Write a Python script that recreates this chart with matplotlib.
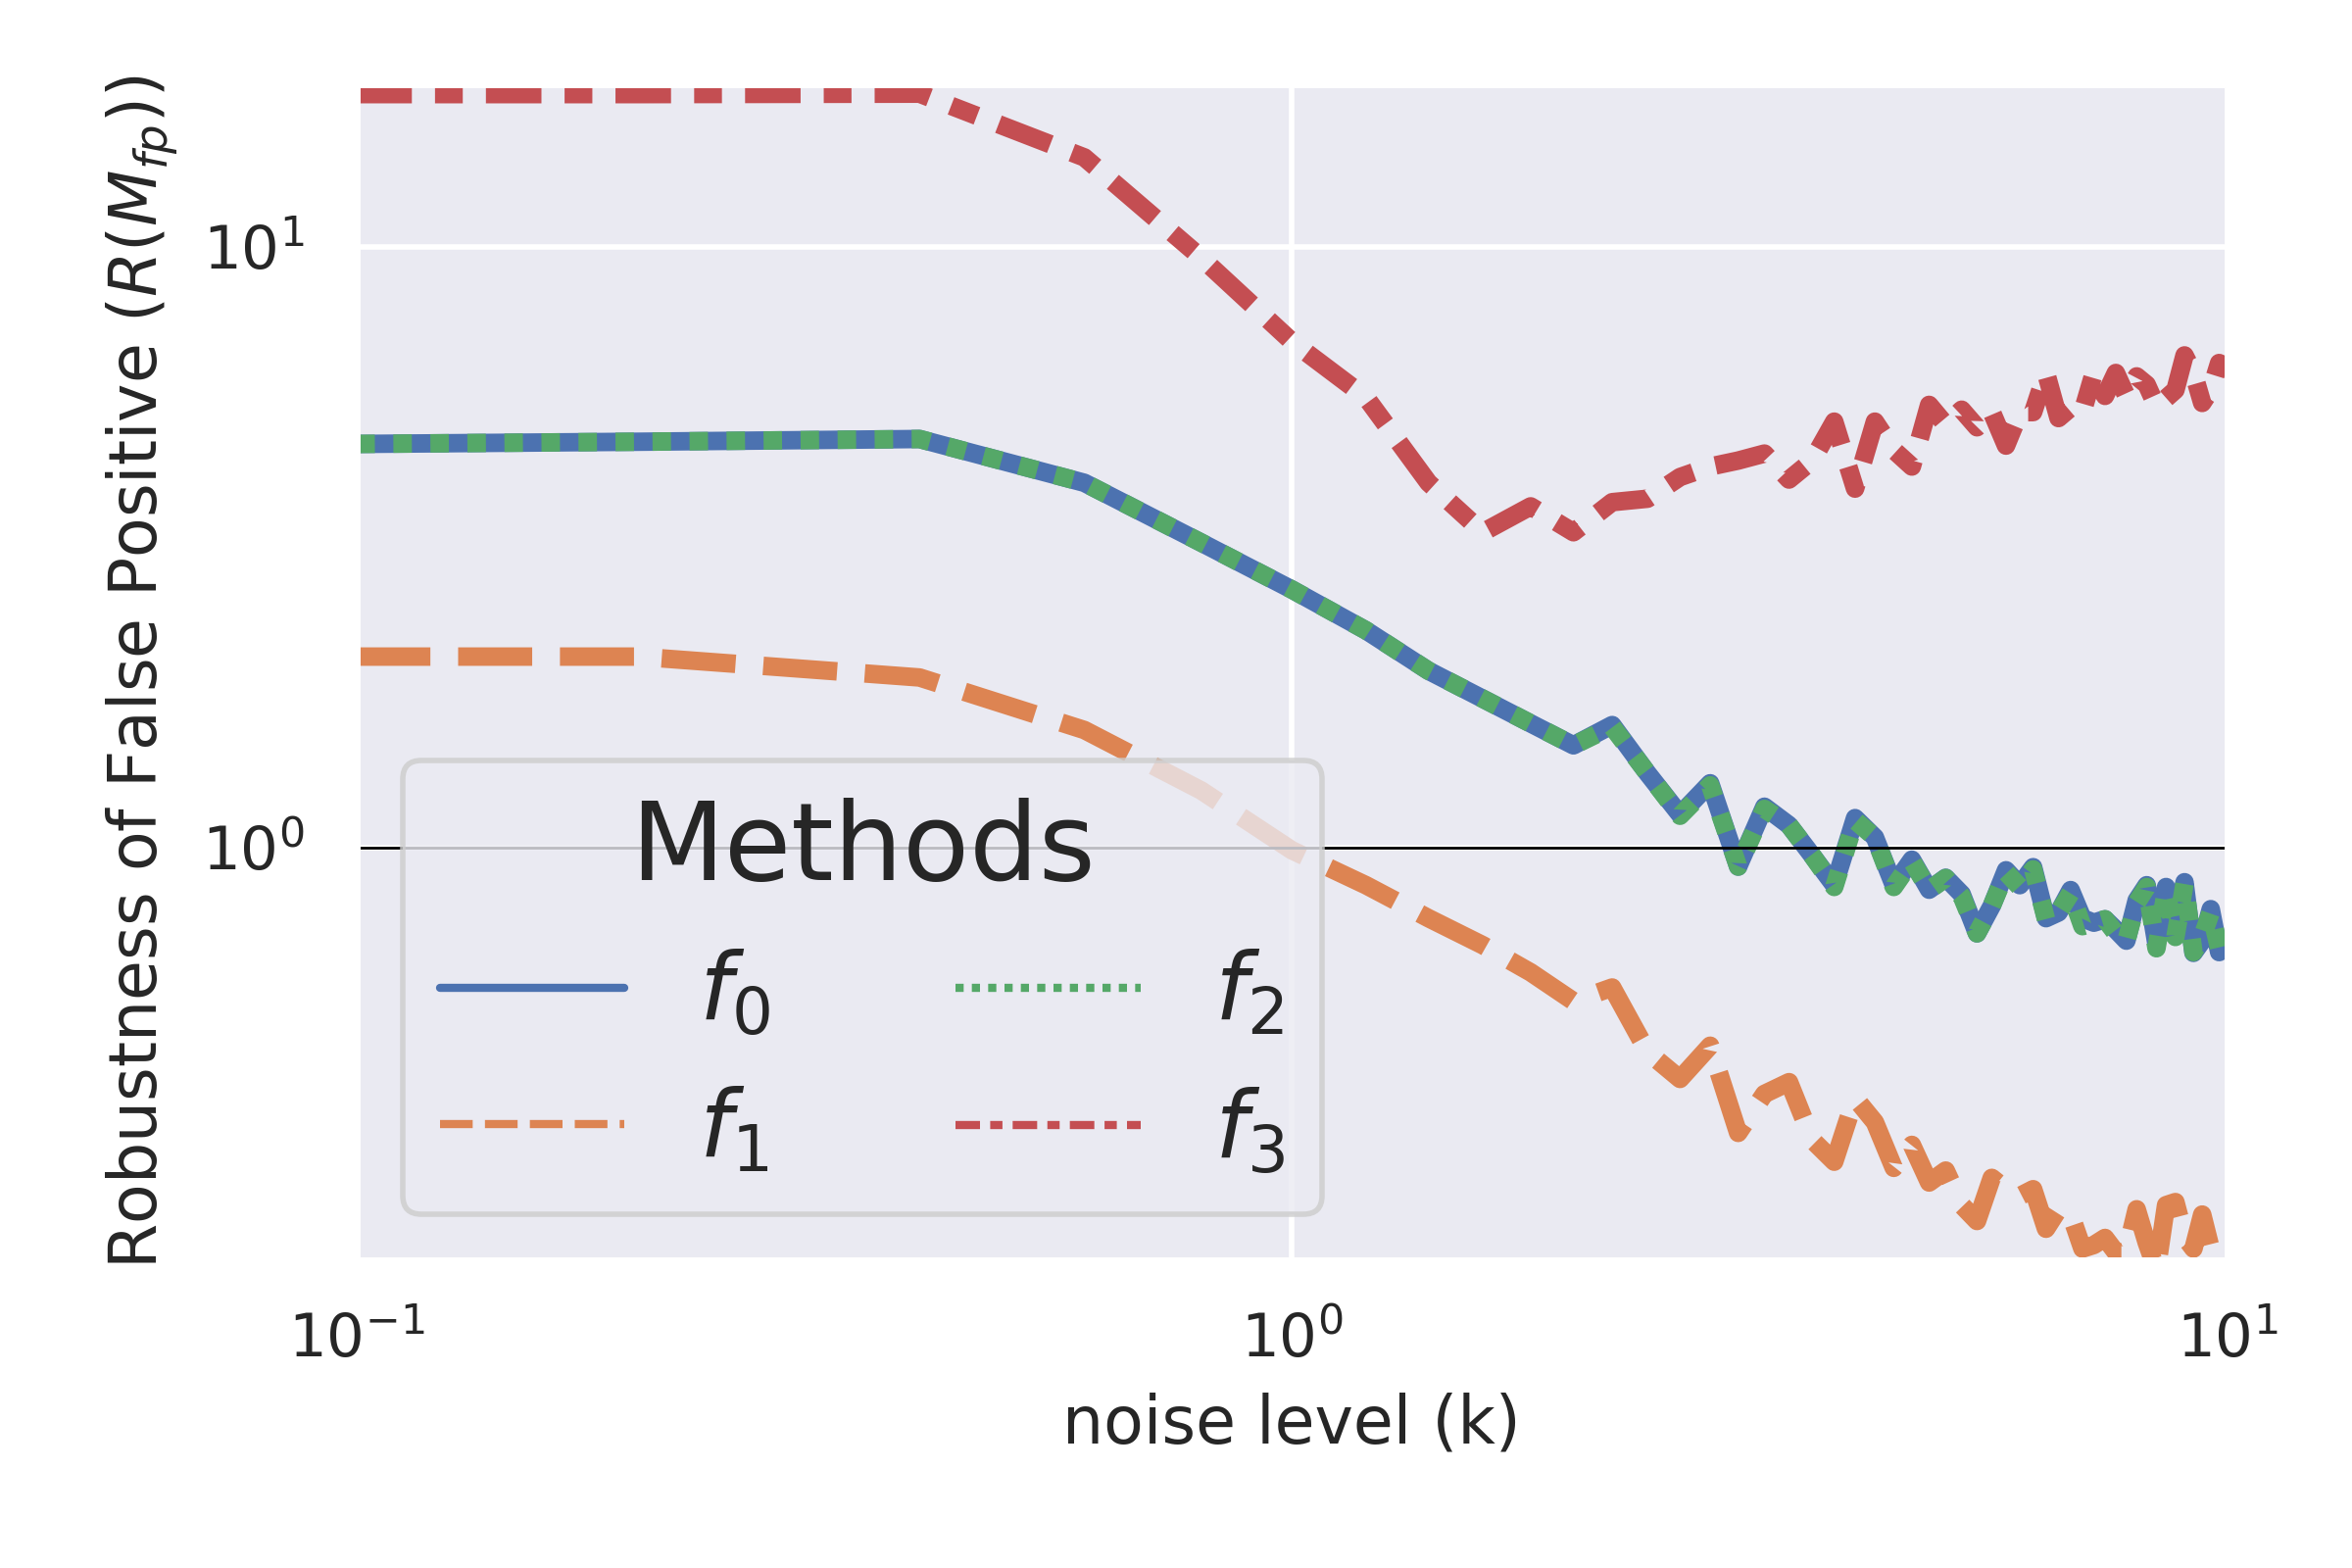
import matplotlib
matplotlib.use("Agg")
import matplotlib.pyplot as plt
import seaborn as sns

# noise levels (k)
noise = [0.1, 0.2, 0.4, 0.6, 0.8, 1.0, 1.2, 1.4, 1.6, 1.8, 2.0,
         2.2, 2.4, 2.6, 2.8, 3.0, 3.2, 3.4, 3.6, 3.8, 4.0,
         4.2, 4.4, 4.6, 4.8, 5.0, 5.2, 5.4, 5.6, 5.8, 6.0,
         6.2, 6.4, 6.6, 6.8, 7.0, 7.2, 7.4, 7.6, 7.8, 8.0,
         8.2, 8.4, 8.6, 8.8, 9.0, 9.2, 9.4, 9.6, 9.8, 10.0]

f0 = [4.70, 4.74, 4.79, 4.05, 3.22, 2.69, 2.30, 1.97, 1.77, 1.61, 1.48,
      1.60, 1.33, 1.135, 1.28, 0.93, 1.17, 1.09, 0.97, 0.866, 1.12,
      1.04, 0.866, 0.955, 0.851, 0.891, 0.837, 0.72, 0.80, 0.917, 0.866,
      0.928, 0.763, 0.78, 0.85, 0.763, 0.75, 0.76, 0.73, 0.70, 0.817,
      0.866, 0.69, 0.86, 0.72, 0.876, 0.668, 0.70, 0.79, 0.67, 0.70]

f1 = [2.08, 2.08, 1.92, 1.57, 1.245, 0.99, 0.866, 0.763, 0.688, 0.62, 0.555,
      0.585, 0.457, 0.412, 0.468, 0.335, 0.389, 0.407, 0.326, 0.30, 0.383,
      0.349, 0.293, 0.32, 0.277, 0.29, 0.254, 0.239, 0.282, 0.27, 0.263,
      0.27, 0.232, 0.25, 0.245, 0.215, 0.218, 0.224, 0.212, 0.212, 0.25,
      0.22, 0.198, 0.254, 0.257, 0.225, 0.215, 0.245, 0.215, 0.21, 0.218]

f2 = [4.70, 4.74, 4.79, 4.05, 3.22, 2.69, 2.30, 1.97, 1.77, 1.61, 1.48,
      1.59, 1.33, 1.13, 1.27, 0.93, 1.16, 1.09, 0.97, 0.86, 1.11,
      1.04, 0.86, 0.95, 0.85, 0.89, 0.83, 0.72, 0.80, 0.91, 0.86,
      0.92, 0.76, 0.78, 0.84, 0.74, 0.75, 0.76, 0.72, 0.70, 0.81,
      0.86, 0.68, 0.85, 0.71, 0.87, 0.67, 0.71, 0.78, 0.68, 0.70]

f3 = [17.97, 17.97, 18.0, 14.1, 9.6, 6.96, 5.62, 4.05, 3.35, 3.70, 3.35,
      3.76, 3.81, 4.14, 4.31, 4.41, 4.53, 4.10, 4.41, 5.12, 3.96,
      5.12, 4.59, 4.31, 5.46, 5.06, 5.36, 5.01, 5.31, 4.67, 5.31,
      5.31, 6.17, 5.19, 5.40, 5.31, 6.17, 5.65, 6.17, 5.65, 6.09,
      5.90, 5.43, 5.60, 5.78, 6.60, 6.17, 5.50, 5.78, 6.41, 6.30]

labels = ["$f_0$", "$f_1$", "$f_2$", "$f_3$"]

sns.set_theme(style="darkgrid")
plt.rcParams["font.family"] = ["DejaVu Sans"]

palette = sns.color_palette("deep")
dashes = [(None, None), (4, 1.5), (1, 1), (3, 1.25, 1.5, 1.25)]

fig, ax = plt.subplots(figsize=(6, 4), dpi=400)
fig.subplots_adjust(left=0.1515, right=0.947, bottom=0.19625, top=0.94625)

for i, (series, lab) in enumerate(zip([f0, f1, f2, f3], labels)):
    kw = {} if i == 0 else {"dashes": dashes[i]}
    ax.plot(noise, series, color=palette[i], linewidth=3.4, label=lab, **kw)

ax.axhline(1, color="black", linewidth=0.5)

ax.set_xscale("log")
ax.set_yscale("log")
ax.set_xlim(0.1, 10)
ax.set_ylim(0.2056, 18.66)
ax.set_xlabel("noise level (k)")
ax.set_ylabel("Robustness of False Positive ($R(M_{fp})$)")

leg = ax.legend(title="Methods", ncol=2, loc="lower left",
                fontsize=17, title_fontsize=20)
for line in leg.get_lines():
    line.set_linewidth(1.5)

fig.savefig("out.png", dpi=400)
plt.close(fig)
